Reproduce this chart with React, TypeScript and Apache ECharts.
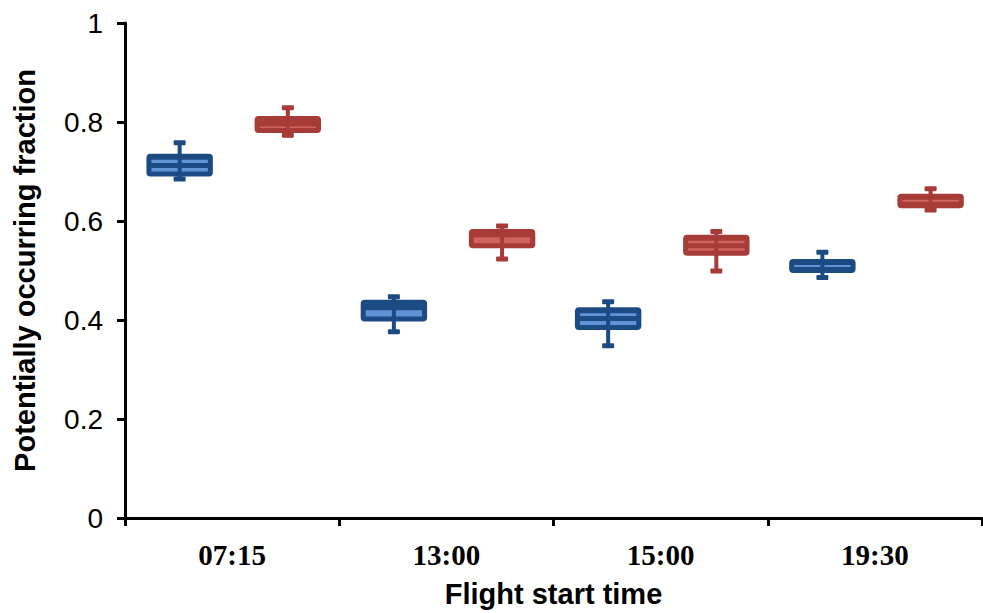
import React, { useEffect, useRef } from "react";
import * as echarts from "echarts";

const categories = ["07:15", "13:00", "15:00", "19:30"];

const blueMin = [0.682, 0.373, 0.345, 0.483];
const blueQ1 = [0.69, 0.397, 0.38, 0.495];
const blueMedian = [0.712, 0.425, 0.403, 0.502];
const blueQ3 = [0.736, 0.441, 0.426, 0.523];
const blueMax = [0.761, 0.45, 0.44, 0.54];

const redMin = [0.77, 0.52, 0.496, 0.619];
const redQ1 = [0.778, 0.545, 0.53, 0.626];
const redMedian = [0.796, 0.572, 0.55, 0.634];
const redQ3 = [0.812, 0.584, 0.572, 0.655];
const redMax = [0.832, 0.593, 0.582, 0.668];

const yTicks = [0, 0.2, 0.4, 0.6, 0.8, 1];

function makeRender(offsetFrac: number, dark: string, light: string) {
  return (params: any, api: any) => {
    const idx = api.value(0);
    const band = api.size([1, 0])[0];
    const c = api.coord([idx, 0]);
    const cx = c[0] + band * offsetFrac;
    const yMin = api.coord([idx, api.value(1)])[1];
    const yQ1 = api.coord([idx, api.value(2)])[1];
    const yMed = api.coord([idx, api.value(3)])[1];
    const yQ3 = api.coord([idx, api.value(4)])[1];
    const yMax = api.coord([idx, api.value(5)])[1];
    const w = band * 0.31;
    const x0 = cx - w / 2;
    const children: any[] = [];
    children.push({
      type: "line",
      shape: { x1: cx, y1: yMax, x2: cx, y2: yMin },
      style: { stroke: dark, lineWidth: 4 },
    });
    children.push({
      type: "rect",
      shape: { x: cx - 6, y: yMax - 1, width: 12, height: 5, r: 1 },
      style: { fill: dark },
    });
    children.push({
      type: "rect",
      shape: { x: cx - 6, y: yMin - 4, width: 12, height: 5, r: 1 },
      style: { fill: dark },
    });
    children.push({
      type: "rect",
      shape: { x: x0, y: yQ3, width: w, height: yQ1 - yQ3, r: 4 },
      style: { fill: dark },
    });
    const inset = 5;
    const upTop = yQ3 + 6;
    const upBot = yMed - 2.5;
    if (upBot - upTop > 0.5) {
      children.push({
        type: "rect",
        shape: { x: x0 + inset, y: upTop, width: w - 2 * inset, height: upBot - upTop },
        style: { fill: light },
      });
    }
    const loTop = yMed + 2.5;
    const loBot = yQ1 - 5;
    if (loBot - loTop > 0.5) {
      children.push({
        type: "rect",
        shape: { x: x0 + inset, y: loTop, width: w - 2 * inset, height: loBot - loTop },
        style: { fill: light },
      });
    }
    children.push({
      type: "line",
      shape: { x1: cx, y1: yQ3, x2: cx, y2: yQ1 },
      style: { stroke: dark, lineWidth: 4 },
    });
    return { type: "group", children };
  };
}

export default function App() {
  const ref = useRef<HTMLDivElement>(null);
  useEffect(() => {
    if (!ref.current) return;
    const chart = echarts.init(ref.current, undefined, { renderer: "svg" });
    const blueData = categories.map((_, i) => [i, blueMin[i], blueQ1[i], blueMedian[i], blueQ3[i], blueMax[i]]);
    const redData = categories.map((_, i) => [i, redMin[i], redQ1[i], redMedian[i], redQ3[i], redMax[i]]);
    chart.setOption({
      animation: false,
      backgroundColor: "#ffffff",
      grid: { left: 125, right: 1, top: 23, bottom: 95 },
      xAxis: {
        type: "category",
        data: categories,
        boundaryGap: true,
        name: "Flight start time",
        nameLocation: "middle",
        nameGap: 61,
        nameTextStyle: { fontFamily: "Arial, Liberation Sans", fontWeight: "bold", fontSize: 29, color: "#000" },
        axisLine: { lineStyle: { color: "#000", width: 3 } },
        axisTick: { show: true, alignWithLabel: false, length: 8, lineStyle: { color: "#000", width: 3 } },
        axisLabel: {
          margin: 22,
          fontFamily: "Times New Roman, Liberation Serif",
          fontWeight: "bold",
          fontSize: 29,
          color: "#000",
        },
      },
      yAxis: {
        type: "value",
        min: 0,
        max: 1,
        interval: 0.2,
        name: "Potentially occurring fraction",
        nameLocation: "middle",
        nameGap: 86,
        nameRotate: 90,
        nameTextStyle: { fontFamily: "Arial, Liberation Sans", fontWeight: "bold", fontSize: 29, color: "#000" },
        splitLine: { show: false },
        axisLine: { show: true, lineStyle: { color: "#000", width: 3 } },
        axisTick: { show: true, length: 8, lineStyle: { color: "#000", width: 3 } },
        axisLabel: {
          margin: 22,
          fontFamily: "Arial, Liberation Sans",
          fontSize: 28,
          color: "#000",
          formatter: (v: number) => {
            const t = yTicks.find((k) => Math.abs(k - v) < 1e-6);
            return t === undefined ? "" : String(t);
          },
        },
      },
      series: [
        {
          type: "custom",
          name: "blue",
          renderItem: makeRender(-0.245, "#1c4a82", "#5f93d6"),
          encode: { x: 0, y: [1, 2, 3, 4, 5] },
          data: blueData,
        },
        {
          type: "custom",
          name: "red",
          renderItem: makeRender(0.26, "#a63b38", "#d2625d"),
          encode: { x: 0, y: [1, 2, 3, 4, 5] },
          data: redData,
        },
      ],
    });
    return () => chart.dispose();
  }, []);
  return <div ref={ref} style={{ position: "fixed", left: 0, top: 0, width: 983, height: 613 }} />;
}
